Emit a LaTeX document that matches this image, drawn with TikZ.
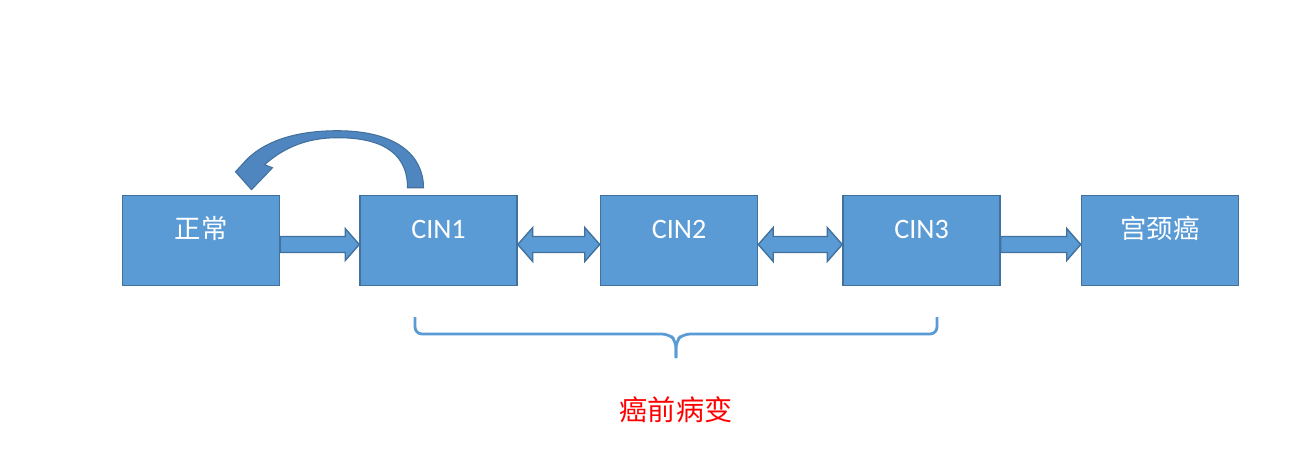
\documentclass[tikz,border=0pt]{standalone}
\usepackage{fontspec}
\setmainfont{Carlito}
\newfontfamily\cjk{Noto Sans CJK SC}
\usetikzlibrary{positioning,calc}

\definecolor{boxblue}{HTML}{5B9BD5}
\definecolor{edgeblue}{HTML}{41719C}
\definecolor{curveblue}{HTML}{4F86C0}

\tikzset{
  stage/.style={draw=edgeblue,fill=boxblue,line width=0.9pt,minimum width=3.14cm,
    minimum height=1.8cm,text=white,font=\fontsize{16}{19}\selectfont,
    text height=0.35cm,text depth=0.45cm,inner sep=0pt},
  blkarrow/.style={draw=edgeblue,fill=boxblue,line width=0.8pt,line join=miter},
  brace/.style={draw=boxblue,line width=1.6pt,rounded corners=4pt}
}

\begin{document}
\begin{tikzpicture}[x=0.02cm,y=-0.02cm]
\useasboundingbox (0,0) rectangle (1312,458);
%boxes
\node[stage] (n0) at (201,240.5) {\cjk\fontsize{15}{18}\selectfont 正常};
\node[stage] (c1) at (438.5,240.5) {CIN1};
\node[stage] (c2) at (679,240.5) {CIN2};
\node[stage] (c3) at (921.5,240.5) {CIN3};
\node[stage] (cc) at (1160,240.5) {\cjk\fontsize{15}{18}\selectfont 宫颈癌};
%one way arrows
\foreach \a/\b in {n0/c1,c3/cc}
  \filldraw[blkarrow] ($(\a.east)+(0,-4)$) -- ($(\b.west)+(-14,-4)$) -- ($(\b.west)+(-14,-12)$)
    -- ($(\b.west)+(0,4)$) -- ($(\b.west)+(-14,20)$) -- ($(\b.west)+(-14,12)$)
    -- ($(\a.east)+(0,12)$) -- cycle;
%two way arrows
\foreach \a/\b in {c1/c2,c2/c3}
  \filldraw[blkarrow] ($(\a.east)+(15,-4)$) -- ($(\b.west)+(-15,-4)$) -- ($(\b.west)+(-15,-13)$)
    -- ($(\b.west)+(0,4)$) -- ($(\b.west)+(-15,21)$) -- ($(\b.west)+(-15,12)$)
    -- ($(\a.east)+(15,12)$) -- ($(\a.east)+(15,21)$) -- ($(\a.east)+(0,4)$)
    -- ($(\a.east)+(15,-13)$) -- cycle;
%curved arrow back to normal
\begin{scope}[shift={(c1.north)}]
\filldraw[draw=edgeblue,fill=curveblue,line width=0.6pt]
  (-31,-7) .. controls (-31,-46) and (-63,-57) .. (-101,-57)
  .. controls (-136,-57) and (-158,-44) .. (-174,-30)
  -- (-166,-27) -- (-187,-5) -- (-203,-23) -- (-191,-36)
  .. controls (-170,-56) and (-138,-64) .. (-101,-64)
  .. controls (-43,-64) and (-15,-40) .. (-15,-7) -- cycle;
\end{scope}
%brace under the CIN stages
\draw[brace] (415,317) -- (415,334) -- (669,334) -- (676,341) -- (676,358);
\draw[brace] (676,358) -- (676,341) -- (683,334) -- (937,334) -- (937,317);
\node[text=red,font=\fontsize{16}{19}\selectfont] (pre) at (676,410) {\cjk 癌前病变};
\end{tikzpicture}
\end{document}
